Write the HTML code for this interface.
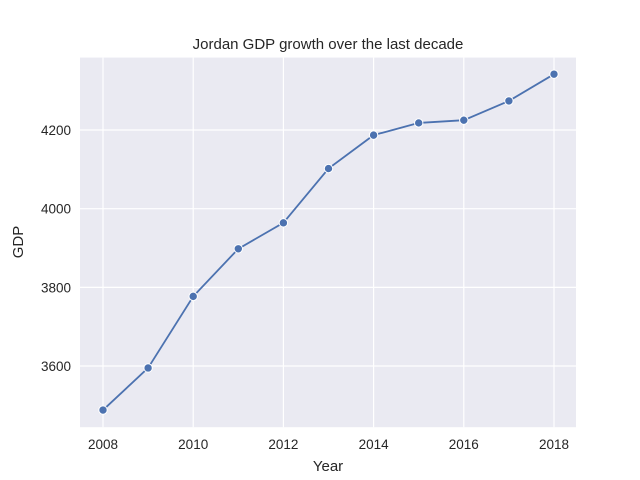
<!DOCTYPE html>
<html><head><meta charset="utf-8"><style>
body{margin:0;background:#fff;}
svg{display:block;font-family:"Liberation Sans",Arial,sans-serif;}
</style></head><body>
<svg id="chart" width="640" height="480">
<rect x="80" y="57.6" width="496" height="369.6" fill="#eaeaf2"/>
<g id="grid"></g>
<g id="ticks"></g>
<path id="line" fill="none" stroke="#4c72b0" stroke-width="1.8"/>
<g id="points"></g>
<text x="328" y="49" text-anchor="middle" font-size="15" fill="#262626">Jordan GDP growth over the last decade</text>
<text x="328" y="471" text-anchor="middle" font-size="15" fill="#262626">Year</text>
<text transform="translate(23,242) rotate(-90)" text-anchor="middle" font-size="15" fill="#262626">GDP</text>
</svg>
<script>
const years=[2008,2009,2010,2011,2012,2013,2014,2015,2016,2017,2018];
const gdp=[3488,3595,3777,3898,3964,4102,4187,4218,4225,4274,4342];
const xTicks=[2008,2010,2012,2014,2016,2018];
const yTicks=[3600,3800,4000,4200];
const NS="http://www.w3.org/2000/svg";
function xs(v){return 103+(v-2008)*45.1;}
function ys(v){return 366-(v-3600)*0.3933;}
const grid=document.getElementById('grid'),ticks=document.getElementById('ticks');
xTicks.forEach(t=>{
 const l=document.createElementNS(NS,'line');
 l.setAttribute('x1',xs(t));l.setAttribute('x2',xs(t));l.setAttribute('y1',57.6);l.setAttribute('y2',427.2);
 l.setAttribute('stroke','#fff');l.setAttribute('stroke-width','1.2');
 
 
 grid.appendChild(l);
 const tx=document.createElementNS(NS,'text');
 tx.setAttribute('x',xs(t));tx.setAttribute('y',449);tx.setAttribute('text-anchor','middle');
 tx.setAttribute('font-size','13.5');tx.setAttribute('fill','#262626');tx.textContent=t;
 
 
 ticks.appendChild(tx);
});
yTicks.forEach(t=>{
 const l=document.createElementNS(NS,'line');
 l.setAttribute('x1',80);l.setAttribute('x2',576);l.setAttribute('y1',ys(t));l.setAttribute('y2',ys(t));
 l.setAttribute('stroke','#fff');l.setAttribute('stroke-width','1.2');
 
 
 grid.appendChild(l);
 const tx=document.createElementNS(NS,'text');
 tx.setAttribute('x',71);tx.setAttribute('y',ys(t)+5);tx.setAttribute('text-anchor','end');
 tx.setAttribute('font-size','13.5');tx.setAttribute('fill','#262626');tx.textContent=t;
 
 
 ticks.appendChild(tx);
});
document.getElementById('line').setAttribute('d',years.map((y,i)=>(i?'L':'M')+xs(y)+','+ys(gdp[i])).join(''));
const pts=document.getElementById('points');
years.forEach((y,i)=>{
 const c=document.createElementNS(NS,'circle');
 c.setAttribute('cx',xs(y));c.setAttribute('cy',ys(gdp[i]));c.setAttribute('r',4.2);
 c.setAttribute('fill','#4c72b0');c.setAttribute('stroke','#fff');c.setAttribute('stroke-width','1');
 
 
 pts.appendChild(c);
});
</script>
</body></html>
